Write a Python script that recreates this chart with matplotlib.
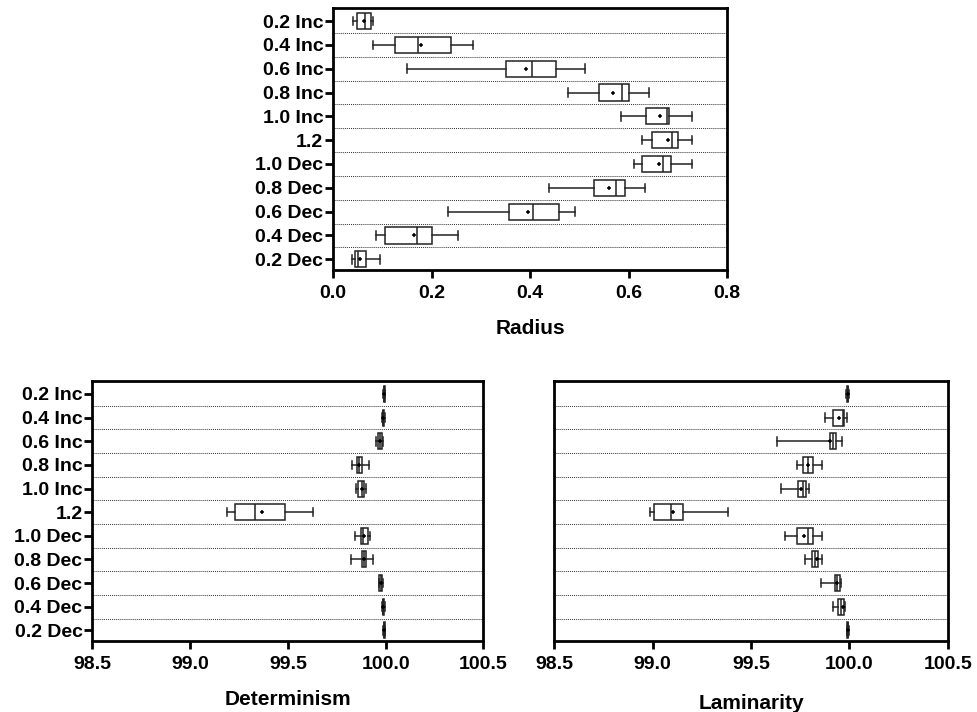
import matplotlib
matplotlib.use('Agg')
import matplotlib.pyplot as plt

plt.rcParams['font.family'] = ['Liberation Sans', 'DejaVu Sans']
plt.rcParams['font.weight'] = 'bold'

labels = ['0.2 Inc', '0.4 Inc', '0.6 Inc', '0.8 Inc', '1.0 Inc', '1.2',
          '1.0 Dec', '0.8 Dec', '0.6 Dec', '0.4 Dec', '0.2 Dec']

# Radius
rad_low = [0.041, 0.082, 0.150, 0.478, 0.585, 0.628, 0.612, 0.439, 0.233, 0.087, 0.039]
rad_q1 = [0.048, 0.126, 0.352, 0.540, 0.635, 0.648, 0.627, 0.529, 0.357, 0.105, 0.045]
rad_med = [0.064, 0.172, 0.405, 0.586, 0.678, 0.689, 0.669, 0.574, 0.407, 0.170, 0.050]
rad_q3 = [0.077, 0.240, 0.453, 0.600, 0.683, 0.701, 0.686, 0.592, 0.459, 0.200, 0.066]
rad_high = [0.082, 0.284, 0.511, 0.642, 0.728, 0.728, 0.728, 0.634, 0.491, 0.254, 0.095]
rad_mean = [0.062, 0.179, 0.391, 0.569, 0.663, 0.681, 0.662, 0.560, 0.395, 0.164, 0.055]

# Determinism
det_low = [99.986, 99.982, 99.951, 99.827, 99.849, 99.187, 99.844, 99.822, 99.965, 99.983, 99.989]
det_q1 = [99.990, 99.986, 99.963, 99.852, 99.861, 99.230, 99.873, 99.878, 99.968, 99.986, 99.992]
det_med = [99.993, 99.989, 99.972, 99.864, 99.878, 99.334, 99.886, 99.890, 99.975, 99.989, 99.994]
det_q3 = [99.995, 99.992, 99.980, 99.878, 99.891, 99.486, 99.909, 99.900, 99.982, 99.993, 99.996]
det_high = [99.998, 99.997, 99.985, 99.917, 99.900, 99.630, 99.920, 99.937, 99.986, 99.997, 99.999]
det_mean = [99.992, 99.989, 99.970, 99.865, 99.880, 99.368, 99.888, 99.891, 99.975, 99.989, 99.994]

# Laminarity
lam_low = [99.985, 99.876, 99.634, 99.732, 99.654, 98.988, 99.671, 99.773, 99.857, 99.915, 99.986]
lam_q1 = [99.989, 99.918, 99.902, 99.763, 99.741, 99.007, 99.736, 99.808, 99.929, 99.941, 99.990]
lam_med = [99.992, 99.966, 99.919, 99.791, 99.763, 99.092, 99.790, 99.824, 99.939, 99.956, 99.992]
lam_q3 = [99.995, 99.973, 99.932, 99.817, 99.780, 99.156, 99.814, 99.839, 99.953, 99.974, 99.995]
lam_high = [99.998, 99.986, 99.961, 99.861, 99.793, 99.385, 99.861, 99.861, 99.956, 99.976, 99.998]
lam_mean = [99.992, 99.949, 99.902, 99.792, 99.756, 99.102, 99.769, 99.834, 99.935, 99.970, 99.992]


def draw(ax, low, q1, med, q3, high, mean, xlim, xticks, fmt, xlabel, show_y=True, lpad=12):
    stats = []
    for i in range(len(labels)):
        stats.append({'whislo': low[i], 'q1': q1[i], 'med': med[i], 'q3': q3[i],
                      'whishi': high[i], 'mean': mean[i], 'fliers': []})
    pos = list(range(len(labels)))
    ax.bxp(stats, positions=pos, vert=False, widths=0.68, patch_artist=True,
           showmeans=True, showcaps=True,
           boxprops=dict(facecolor='white', edgecolor='#222222', linewidth=1.1),
           medianprops=dict(color='#222222', linewidth=1.1),
           whiskerprops=dict(color='#222222', linewidth=1.1),
           capprops=dict(color='#222222', linewidth=1.1),
           capwidths=0.36,
           meanprops=dict(marker='+', markeredgecolor='black', markersize=3.5, markeredgewidth=1.1))
    # dotted separators between rows
    for i in range(len(labels) - 1):
        ax.axhline(i + 0.5, color='#333333', linestyle=(0, (1, 1)), linewidth=0.7, zorder=0)
    ax.set_ylim(10.45, -0.55)
    ax.set_xlim(xlim)
    ax.set_xticks(xticks)
    ax.set_xticklabels([fmt % v for v in xticks], fontsize=14, fontweight='bold')
    ax.set_yticks(pos)
    if show_y:
        ax.set_yticklabels(labels, fontsize=14, fontweight='bold')
        ax.tick_params(axis='y', length=6, width=2, pad=1)
    else:
        ax.set_yticklabels([])
        ax.tick_params(axis='y', length=0)
    ax.tick_params(axis='x', length=6, width=2, pad=5)
    for s in ax.spines.values():
        s.set_linewidth(2)
    ax.set_xlabel(xlabel, fontsize=15, fontweight='bold', labelpad=lpad)


fig = plt.figure(figsize=(9.78, 7.12), dpi=100)
ax1 = fig.add_axes([0.3405, 0.6208, 0.4029, 0.3680])
ax2 = fig.add_axes([0.0944, 0.0997, 0.3998, 0.3652])
ax3 = fig.add_axes([0.5668, 0.0997, 0.4022, 0.3652])

draw(ax1, rad_low, rad_q1, rad_med, rad_q3, rad_high, rad_mean,
     (0, 0.8), [0.0, 0.2, 0.4, 0.6, 0.8], '%.1f', 'Radius')
draw(ax2, det_low, det_q1, det_med, det_q3, det_high, det_mean,
     (98.5, 100.5), [98.5, 99.0, 99.5, 100.0, 100.5], '%.1f', 'Determinism')
draw(ax3, lam_low, lam_q1, lam_med, lam_q3, lam_high, lam_mean,
     (98.5, 100.5), [98.5, 99.0, 99.5, 100.0, 100.5], '%.1f', 'Laminarity',
     show_y=False, lpad=15)

plt.savefig('out.png', dpi=100)
